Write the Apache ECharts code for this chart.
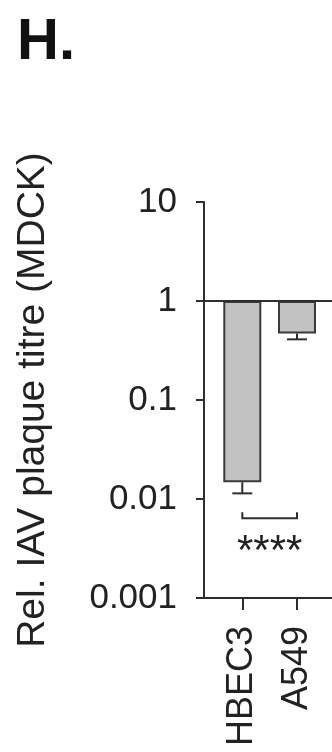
<!DOCTYPE html>
<html>
<head>
<meta charset="utf-8">
<script src="https://cdn.jsdelivr.net/npm/echarts@6/dist/echarts.min.js"></script>
<style>
  html, body { margin: 0; padding: 0; background: #fff; }
  #chart { width: 332px; height: 752px; }
</style>
</head>
<body>
<div id="chart"></div>
<script>
const cellLines = ['HBEC3', 'A549'];
const cellPos = [1, 2];
const titreMean = [0.0148, 0.47];
const titreLower = [0.0114, 0.41];
const yTickLabels = ['0.001', '0.01', '0.1', '1', '10'];
const sigPair = [1, 2];
const sigLevel = 0.0064;
const sigText = '****';

const FONT = 'Liberation Sans, Arial, sans-serif';
const LINE = '#2e2e2e';

const chart = echarts.init(document.getElementById('chart'), null, { renderer: 'canvas' });

const barData = cellPos.map((p, i) => [p, titreMean[i]]);
const errData = cellPos.map((p, i) => [p, titreMean[i], titreLower[i]]);

chart.setOption({
  animation: false,
  title: {
    text: 'H.',
    left: 17,
    top: 14,
    padding: 0,
    textStyle: { fontFamily: FONT, fontSize: 58, fontWeight: 'bold', color: '#111' },
  },
  grid: { left: 204, right: 0, top: 202, bottom: 154 },
  xAxis: {
    type: 'value',
    min: 0.3,
    max: 2.64,
    splitLine: { show: false },
    axisLine: { lineStyle: { color: LINE, width: 2 } },
    axisTick: { customValues: cellPos, length: 12, lineStyle: { color: LINE, width: 2 } },
    axisLabel: {
      customValues: cellPos,
      rotate: 90,
      margin: 28,
      fontFamily: FONT,
      fontSize: 36,
      color: '#222',
      formatter: (v) => cellLines[cellPos.indexOf(v)] || '',
    },
  },
  yAxis: {
    type: 'log',
    logBase: 10,
    min: 0.001,
    max: 10,
    splitLine: { show: false },
    axisLine: { show: true, lineStyle: { color: LINE, width: 2 } },
    axisTick: { show: true, length: 8, lineStyle: { color: LINE, width: 2 } },
    axisLabel: {
      margin: 27,
      fontFamily: FONT,
      fontSize: 35,
      color: '#222',
      formatter: (v) => yTickLabels[Math.round(Math.log10(v)) + 3],
    },
    name: 'Rel. IAV plaque titre (MDCK)',
    nameLocation: 'middle',
    nameGap: 151,
    nameTextStyle: { fontFamily: FONT, fontSize: 39, color: '#222' },
  },
  series: [
    {
      type: 'bar',
      data: barData,
      barWidth: 38,
      itemStyle: { color: '#c2c2c2', borderColor: '#3a3a3a', borderWidth: 2 },
      markLine: {
        silent: true,
        symbol: ['none', 'none'],
        label: { show: false },
        lineStyle: { color: LINE, width: 2, type: 'solid' },
        data: [{ yAxis: 1 }],
      },
    },
    {
      type: 'custom',
      data: errData,
      renderItem: (params, api) => {
        const top = api.coord([api.value(0), api.value(1)]);
        const low = api.coord([api.value(0), api.value(2)]);
        const half = 10;
        return {
          type: 'group',
          children: [
            { type: 'line', shape: { x1: top[0], y1: top[1], x2: low[0], y2: low[1] }, style: { stroke: LINE, lineWidth: 2 } },
            { type: 'line', shape: { x1: low[0] - half, y1: low[1], x2: low[0] + half, y2: low[1] }, style: { stroke: LINE, lineWidth: 2 } },
          ],
        };
      },
    },
    {
      type: 'custom',
      data: [[sigPair[0], sigPair[1], sigLevel]],
      renderItem: (params, api) => {
        const a = api.coord([api.value(0), api.value(2)]);
        const b = api.coord([api.value(1), api.value(2)]);
        return {
          type: 'group',
          children: [
            {
              type: 'polyline',
              shape: { points: [[a[0], a[1] - 6], [a[0], a[1]], [b[0], b[1]], [b[0], b[1] - 6]] },
              style: { stroke: LINE, lineWidth: 2, fill: null },
            },
            {
              type: 'text',
              x: (a[0] + b[0]) / 2,
              y: a[1] + 13,
              style: { text: sigText, fontFamily: FONT, fontSize: 42, fill: '#222', align: 'center', verticalAlign: 'top' },
            },
          ],
        };
      },
    },
  ],
});
</script>
</body>
</html>
